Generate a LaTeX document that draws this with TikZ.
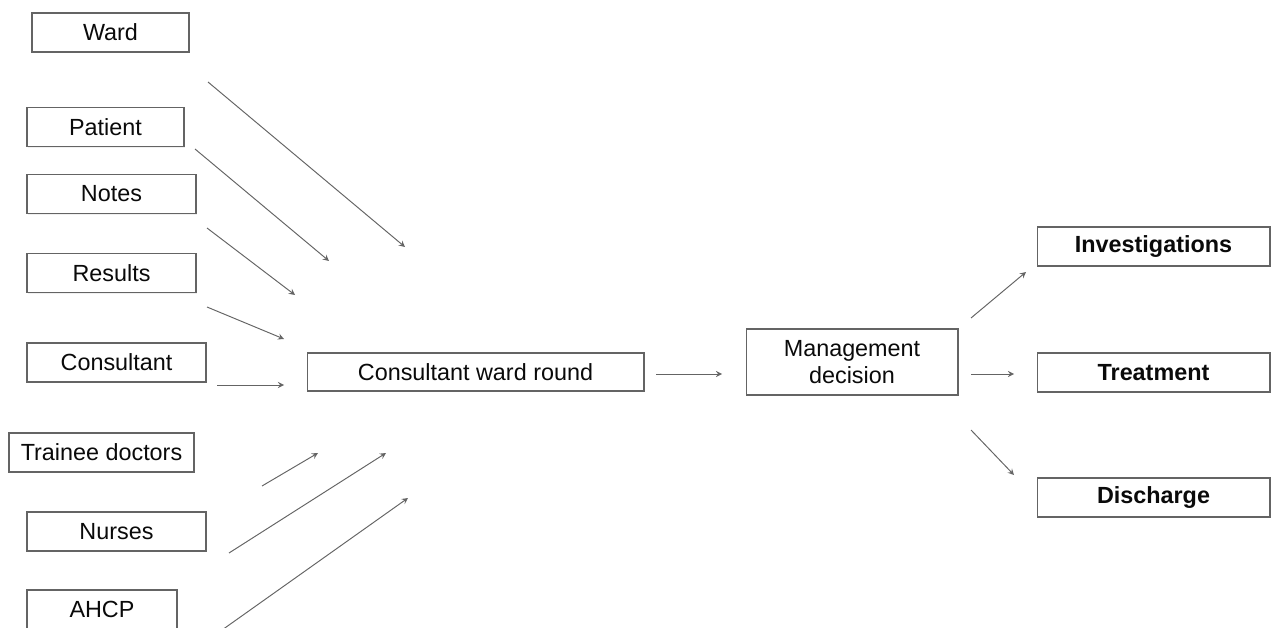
\documentclass[tikz,border=0pt]{standalone}
\usepackage{fontspec}
\setmainfont{Liberation Sans}
\usepackage{tikz}
\usetikzlibrary{arrows,shapes,positioning,shadows}
\usepackage{xcolor}
\definecolor{wrgrey}{RGB}{100,100,100}
\definecolor{wrtext}{RGB}{10,10,10}
\tikzstyle{box} = [rectangle, minimum height=0.78cm, inner sep=0pt, text centered, draw=wrgrey, fill=white, line width=0.6pt, text=wrtext, font=\fontsize{13.3}{15.5}\selectfont, drop shadow={opacity=0.12, shadow xshift=0.8pt, shadow yshift=-0.8pt}]
\tikzstyle{outcome} = [box, minimum width=4.66cm, font=\fontsize{13.3}{15.5}\selectfont\bfseries]
\tikzstyle{arrow} = [->,>=stealth,color=wrgrey,line width=0.55pt]

\begin{document}
\begin{tikzpicture}[x=0.02cm, y=-0.02cm]
\useasboundingbox (0,0) rectangle (1271,628);
% inputs
\node (ward) [box, minimum width=3.14cm] at (110.5,32.5) {Ward};
\node (patient) [box, minimum width=3.14cm] at (105.5,127) {Patient};
\node (notes) [box, minimum width=3.38cm] at (111.5,194) {Notes};
\node (results) [box, minimum width=3.38cm] at (111.5,273) {Results};
\node (consultant) [box, minimum width=3.58cm] at (116.5,362.5) {Consultant};
\node (trainee) [box, minimum width=3.70cm] at (101.5,452.5) {Trainee doctors};
\node (nurses) [box, minimum width=3.58cm] at (116.5,531.5) {Nurses};
\node (ahcp) [box, minimum width=3.00cm] at (102,609.5) {AHCP};

\node (round) [box, minimum width=6.74cm, minimum height=0.76cm] at (475.5,372) {Consultant ward round};
\node (decision) [box, minimum width=4.24cm, minimum height=1.32cm, align=center] at (852,362) {Management\\decision};

% outcomes
\node (invest) [outcome] at (1153.5,246.5) {Investigations};
\node (treat) [outcome] at (1153.5,372.5) {Treatment};
\node (discharge) [outcome] at (1153.5,497.5) {Discharge};

% arrow ends
\coordinate (wardS) at (208,82);     \coordinate (wardE) at (405,247);
\coordinate (patientS) at (195,149); \coordinate (patientE) at (329,261);
\coordinate (notesS) at (207,228);   \coordinate (notesE) at (295,295);
\coordinate (resultsS) at (207,307); \coordinate (resultsE) at (284,339);
\coordinate (consS) at (217,385);    \coordinate (consE) at (284,385);
\coordinate (traineeS) at (262,486); \coordinate (traineeE) at (318,453);
\coordinate (nursesS) at (229,553);  \coordinate (nursesE) at (386,453);
\coordinate (ahcpS) at (222,630);    \coordinate (ahcpE) at (408,498);
\coordinate (roundS) at (656,374);   \coordinate (roundE) at (722,374);
\coordinate (investS) at (971,318);  \coordinate (investE) at (1026,272);
\coordinate (treatS) at (971,374);   \coordinate (treatE) at (1014,374);
\coordinate (dischS) at (971,430);   \coordinate (dischE) at (1014,475);

\draw[arrow] (wardS) -- (wardE);
\draw[arrow] (patientS) -- (patientE);
\draw[arrow] (notesS) -- (notesE);
\draw[arrow] (resultsS) -- (resultsE);
\draw[arrow] (consS) -- (consE);
\draw[arrow] (traineeS) -- (traineeE);
\draw[arrow] (nursesS) -- (nursesE);
\draw[arrow] (ahcpS) -- (ahcpE);
\draw[arrow] (roundS) -- (roundE);
\draw[arrow] (investS) -- (investE);
\draw[arrow] (treatS) -- (treatE);
\draw[arrow] (dischS) -- (dischE);
\end{tikzpicture}
\end{document}
